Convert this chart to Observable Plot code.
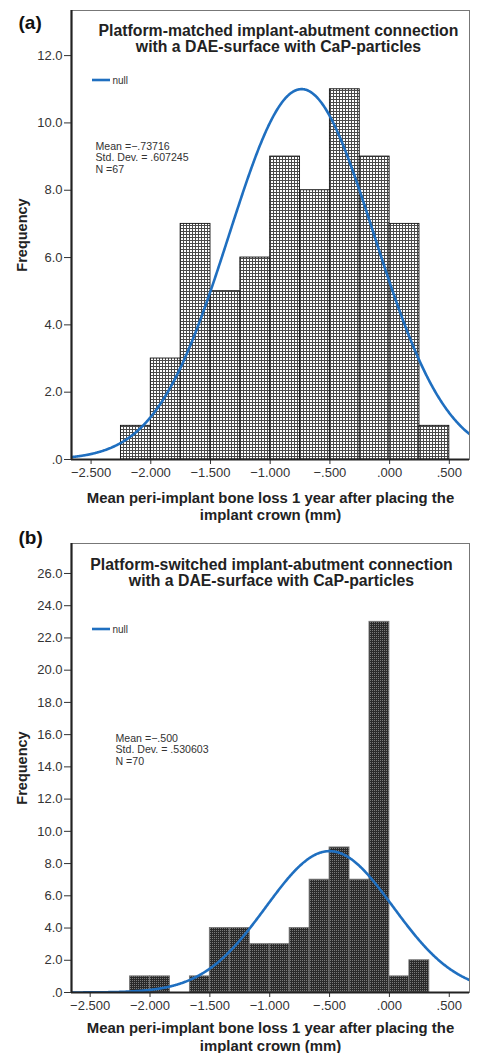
<!DOCTYPE html>
<html><head><meta charset="utf-8">
<script src="https://cdn.jsdelivr.net/npm/d3@7"></script>
<script src="https://cdn.jsdelivr.net/npm/@observablehq/plot@0.6"></script>
<style>
body{margin:0;background:#fff;}
#wrap{width:479px;height:1053px;overflow:hidden;}
#wrap svg{display:block;}
</style></head><body><div id="wrap"></div>
<script>
// ---- Panel (a) data ----
const aEdges = [-2.25, -2.0, -1.75, -1.5, -1.25, -1.0, -0.75, -0.5, -0.25, 0.0, 0.25, 0.5];
const aCounts = [1, 3, 7, 5, 6, 9, 8, 11, 9, 7, 1];
const aMean = -0.73716, aSD = 0.607245, aN = 67, aBinWidth = 0.25;
const aTitle = "Platform-matched implant-abutment connection\nwith a DAE-surface with CaP-particles";
const aStats = "Mean =\u2212.73716\nStd. Dev. = .607245\nN =67";
const aYTicks = [0, 2, 4, 6, 8, 10, 12];

// ---- Panel (b) data ----
const bEdges = [-2.1667, -2.0, -1.8333, -1.6667, -1.5, -1.3333, -1.1667, -1.0, -0.8333, -0.6667, -0.5, -0.3333, -0.1667, 0.0, 0.1667, 0.3333];
const bCounts = [1, 1, 0, 1, 4, 4, 3, 3, 4, 7, 9, 7, 23, 1, 2];
const bMean = -0.500, bSD = 0.530603, bN = 70, bBinWidth = 1 / 6;
const bTitle = "Platform-switched implant-abutment connection\nwith a DAE-surface with CaP-particles";
const bStats = "Mean =\u2212.500\nStd. Dev. = .530603\nN =70";
const bYTicks = [0, 2, 4, 6, 8, 10, 12, 14, 16, 18, 20, 22, 24, 26];

// ---- shared ----
const xTicks = [-2.5, -2.0, -1.5, -1.0, -0.5, 0.0, 0.5];
const xLabel = "Mean peri-implant bone loss 1 year after placing the\nimplant crown (mm)";
const yLabel = "Frequency";
const legendLabel = "null";

const FONT = "'Liberation Sans', Arial, Helvetica, sans-serif";
const curveColor = "#1f6fc0";
const xFmt = d => d3.format(".3f")(d).replace(/^(\u2212?)0\./, "$1.");
const yFmt = d => d3.format(".1f")(d).replace(/^0\./, ".");

function normalCurve(mean, sd, n, bw, domain) {
  const pts = [];
  const k = n * bw / (sd * Math.sqrt(2 * Math.PI));
  for (let x = domain[0]; x <= domain[1] + 1e-9; x += 0.005) {
    pts.push({x, y: k * Math.exp(-0.5 * ((x - mean) / sd) ** 2)});
  }
  return pts;
}

function panel(cfg) {
  const bins = cfg.counts.map((c, i) => ({x1: cfg.edges[i], x2: cfg.edges[i + 1], count: c})).filter(d => d.count > 0);
  const curve = normalCurve(cfg.mean, cfg.sd, cfg.n, cfg.bw, cfg.xDomain);
  const svg = Plot.plot({
    width: 479, height: cfg.height,
    marginTop: cfg.mt, marginBottom: cfg.mb, marginLeft: 71, marginRight: 10,
    style: {fontFamily: FONT, fontSize: "13px", color: "#333", background: "white", overflow: "visible"},
    x: {domain: cfg.xDomain, ticks: xTicks, tickFormat: xFmt, tickSize: 5, tickPadding: 3, label: null},
    y: {domain: [0, cfg.yMax], ticks: cfg.yTicks, tickFormat: yFmt, tickSize: 7, tickPadding: 2, label: null},
    marks: [
      Plot.rectY(bins, {x1: "x1", x2: "x2", y: "count", fill: `url(#${cfg.pat})`, stroke: cfg.barStroke, strokeWidth: 0.9}),
      Plot.line(curve, {x: "x", y: "y", stroke: curveColor, strokeWidth: 2.6, clip: true}),
      Plot.frame({stroke: "#777", strokeWidth: 1}),
      Plot.ruleX([cfg.xDomain[0]], {stroke: "#222", strokeWidth: 2.2}),
      Plot.ruleY([0], {stroke: "#222", strokeWidth: 2}),
      Plot.text([cfg.title], {text: d => d, frameAnchor: "top", dx: cfg.titleDx, dy: cfg.titleDy, lineAnchor: "top",
        fontWeight: "bold", fontSize: 15.8, lineHeight: 1.03, fill: "#222"}),
      Plot.text([cfg.stats], {text: d => d, frameAnchor: "top-left", textAnchor: "start", dx: cfg.statsDx, dy: cfg.statsDy,
        lineAnchor: "middle", fontSize: 10.6, lineHeight: 1.08, fill: "#333"}),
      Plot.text([legendLabel], {text: d => d, frameAnchor: "top-left", textAnchor: "start", dx: 41, dy: cfg.legDy,
        lineAnchor: "middle", fontSize: 10, fill: "#333"}),
      (index, scales, values, dims) => {
        const g = d3.create("svg:g");
        g.append("line")
          .attr("x1", dims.marginLeft + 21).attr("x2", dims.marginLeft + 39)
          .attr("y1", dims.marginTop + cfg.legDy).attr("y2", dims.marginTop + cfg.legDy)
          .attr("stroke", curveColor).attr("stroke-width", 2.6);
        return g.node();
      },
      Plot.text([cfg.tag], {text: d => d, frameAnchor: "top-left", textAnchor: "start", dx: -53, dy: cfg.tagDy,
        lineAnchor: "middle", fontWeight: "bold", fontSize: 19, fill: "#111"}),
      Plot.text([yLabel], {text: d => d, frameAnchor: "left", dx: -49, rotate: -90, textAnchor: "middle",
        lineAnchor: "middle", fontWeight: "bold", fontSize: 14.5, fill: "#222"}),
      Plot.text([xLabel], {text: d => d, frameAnchor: "bottom", dy: cfg.xlabDy, textAnchor: "middle",
        lineAnchor: "middle", fontWeight: "bold", fontSize: 14.9, lineHeight: 1.17, fill: "#222"})
    ]
  });
  d3.select(svg).insert("defs", ":first-child").html(cfg.defs);
  return svg;
}

const defsA = `<pattern id="gridA" patternUnits="userSpaceOnUse" width="3" height="3">
  <rect width="3" height="3" fill="#fff"/>
  <rect x="0" y="0" width="3" height="1" fill="#4a4a4a"/>
  <rect x="0" y="0" width="1" height="3" fill="#4a4a4a"/>
</pattern>`;
const defsB = `<pattern id="dotB" patternUnits="userSpaceOnUse" width="2" height="2">
  <rect width="2" height="2" fill="#2a2a2a"/>
  <rect x="0" y="0" width="1" height="1" fill="#7a7a7a"/>
</pattern>`;

const wrap = document.getElementById("wrap");
wrap.appendChild(panel({
  edges: aEdges, counts: aCounts, mean: aMean, sd: aSD, n: aN, bw: aBinWidth,
  title: aTitle, stats: aStats, yTicks: aYTicks, tag: "(a)",
  height: 526, mt: 10, mb: 67, yMax: 13.34, xDomain: [-2.664, 0.669],
  pat: "gridA", defs: defsA, barStroke: "#111",
  titleDx: 8, titleDy: 14, statsDx: 24, statsDy: 147, legDy: 70, tagDy: 12, xlabDy: 46.5
}));
wrap.appendChild(panel({
  edges: bEdges, counts: bCounts, mean: bMean, sd: bSD, n: bN, bw: bBinWidth,
  title: bTitle, stats: bStats, yTicks: bYTicks, tag: "(b)",
  height: 527, mt: 17, mb: 61, yMax: 27.86, xDomain: [-2.656, 0.669],
  pat: "dotB", defs: defsB, barStroke: "#777",
  titleDx: 1, titleDy: 15, statsDx: 44, statsDy: 206, legDy: 86, tagDy: -6, xlabDy: 44
}));
</script>
</body></html>
